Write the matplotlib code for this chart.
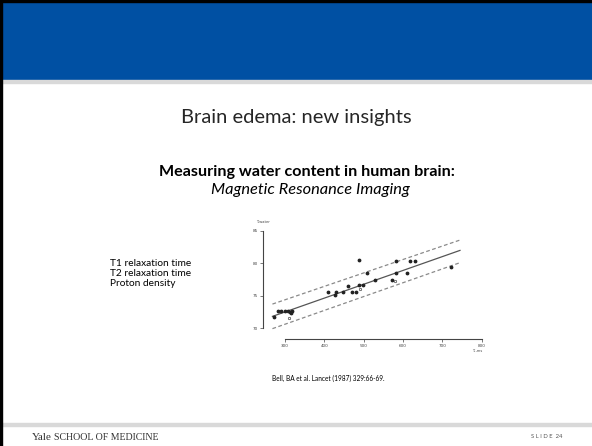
import numpy as np
import matplotlib.pyplot as plt

# data (T1 in ms, brain water %)
t1_filled = [272, 283, 291, 300, 307, 313, 317, 314, 409, 427, 430, 448, 459, 470, 481,
             489, 499, 509, 529, 571, 582, 611, 489, 581, 618, 631, 722]
water_filled = [71.7, 72.7, 72.7, 72.6, 72.6, 72.5, 72.7, 72.3, 75.5, 75.1, 75.5, 75.5, 76.5,
                75.5, 75.5, 76.6, 76.6, 78.5, 77.5, 77.5, 78.5, 78.5, 80.5, 80.4, 80.4, 80.4, 79.5]
t1_open = [311, 491, 580]
water_open = [71.5, 76.0, 77.3]

fit_t1 = [268, 745]
fit_mid = [71.8, 82.0]
fit_hi = [73.7, 83.6]
fit_lo = [69.9, 80.1]

x_ticks = [300, 400, 500, 600, 700, 800]
y_ticks = [70, 75, 80, 85]

W, H = 592, 446
fig = plt.figure(figsize=(W / 100, H / 100), dpi=100)
fig.patch.set_facecolor('white')


def fx(px):
    return px / W


def fy(py):
    return 1 - py / H


# slide frame
bg = fig.add_axes([0, 0, 1, 1])
bg.set_xlim(0, W)
bg.set_ylim(H, 0)
bg.axis('off')
bg.add_patch(plt.Rectangle((0, 0), W, 80, color='#0050A3', zorder=1))
bg.add_patch(plt.Rectangle((0, 80), W, 3, color='#D9D9D9', zorder=1))
bg.add_patch(plt.Rectangle((0, 423), W, 3, color='#D9D9D9', zorder=1))
bg.add_patch(plt.Rectangle((0, 0), 2.3, H, color='black', zorder=2))
bg.add_patch(plt.Rectangle((0, 0), W, 2, color='black', zorder=2))

sans = 'Lato'
bg.text(296, 118, 'Brain edema: new insights', ha='center', va='center',
        fontsize=14.5, family=sans, color='#262626')
bg.text(307, 172, 'Measuring water content in human brain:', ha='center', va='center',
        fontsize=11.6, family=sans, weight='bold', color='black')
bg.text(310, 190, 'Magnetic Resonance Imaging', ha='center', va='center',
        fontsize=11.8, family=sans, style='italic', color='black')
for i, s in enumerate(['T1 relaxation time', 'T2 relaxation time', 'Proton density']):
    bg.text(110, 263 + i * 10.3, s, ha='left', va='center', fontsize=7.3,
            family=sans, color='black')
bg.text(328, 378, 'Bell, BA et al. Lancet (1987) 329:66-69.', ha='center', va='center',
        fontsize=4.7, family=sans, color='black')

bg.text(32, 437, 'Yale', ha='left', va='center', fontsize=8,
        family='Liberation Serif', color='#333333')
bg.text(54, 437.5, 'SCHOOL OF MEDICINE', ha='left', va='center', fontsize=7.1,
        family='Liberation Serif', color='#333333')
bg.text(562, 437, 'S L I D E  24', ha='right', va='center', fontsize=4.2,
        family=sans, color='#555555')

# scatter panel
ax = fig.add_axes([fx(263), fy(339), fx(482 - 263), (339 - 231) / H])
ax.set_xlim(244, 801)
ax.set_ylim(68.3, 85)
ax.patch.set_alpha(0)
for s in ['top', 'right']:
    ax.spines[s].set_visible(False)
ax.spines['left'].set_bounds(70, 85)
ax.spines['bottom'].set_bounds(300, 800)
for s in ['left', 'bottom']:
    ax.spines[s].set_color('#444444')
    ax.spines[s].set_linewidth(0.8)
ax.set_xticks(x_ticks)
ax.set_yticks(y_ticks)
ax.tick_params(length=2, width=0.5, pad=1.5, labelsize=3, colors='#444444')

ax.plot(fit_t1, fit_mid, color='#555555', lw=0.9)
ax.plot(fit_t1, fit_hi, color='#8a8a8a', lw=0.9, ls=(0, (3, 2)))
ax.plot(fit_t1, fit_lo, color='#8a8a8a', lw=0.9, ls=(0, (3, 2)))
ax.scatter(t1_filled, water_filled, s=3, color='#222222', zorder=3)
ax.scatter(t1_open, water_open, s=3, facecolors='white', edgecolors='#444444',
           linewidths=0.5, zorder=3)

ax.text(244, 86.3, 'T,water', fontsize=2.6, color='#444444', ha='center')
ax.text(790, 66.3, 'T\u2081,ms', fontsize=2.6, color='#444444', ha='center')

fig.savefig('out.png', dpi=100)
